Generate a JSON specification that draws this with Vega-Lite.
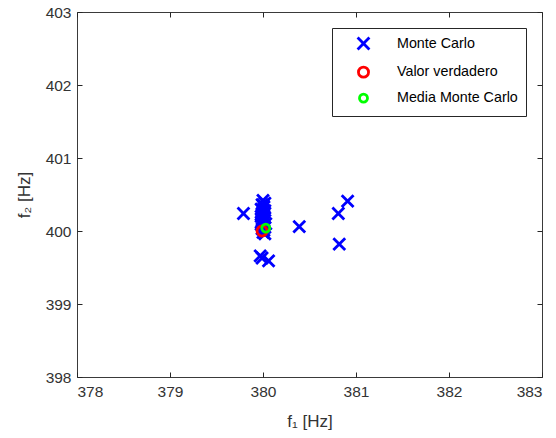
{
  "$schema": "https://vega.github.io/schema/vega-lite/v6.json",
  "autosize": "none",
  "width": 465,
  "height": 365,
  "padding": {"left": 77, "top": 12, "right": 14, "bottom": 61},
  "background": "white",
  "config": {
    "font": "Liberation Sans",
    "view": {"stroke": "#3a3a3a", "strokeWidth": 1},
    "axis": {
      "domain": false,
      "grid": false,
      "tickColor": "#262626",
      "tickSize": -5,
      "tickWidth": 1,
      "labelColor": "#333333",
      "labelFont": "Liberation Sans",
      "labelFontSize": 15.5,
      "titleColor": "#333333",
      "titleFont": "Liberation Sans",
      "titleFontSize": 17,
      "titleFontWeight": "normal"
    }
  },
  "data": {
    "values": [
      {"f1": 379.79, "f2": 400.24, "serie": "Monte Carlo"},
      {"f1": 380.39, "f2": 400.06, "serie": "Monte Carlo"},
      {"f1": 379.97, "f2": 399.66, "serie": "Monte Carlo"},
      {"f1": 379.99, "f2": 399.63, "serie": "Monte Carlo"},
      {"f1": 380.06, "f2": 399.59, "serie": "Monte Carlo"},
      {"f1": 380.81, "f2": 400.24, "serie": "Monte Carlo"},
      {"f1": 380.91, "f2": 400.41, "serie": "Monte Carlo"},
      {"f1": 380.82, "f2": 399.82, "serie": "Monte Carlo"},
      {"f1": 380.00, "f2": 400.42, "serie": "Monte Carlo"},
      {"f1": 379.99, "f2": 400.36, "serie": "Monte Carlo"},
      {"f1": 380.01, "f2": 400.33, "serie": "Monte Carlo"},
      {"f1": 379.98, "f2": 400.30, "serie": "Monte Carlo"},
      {"f1": 380.02, "f2": 400.28, "serie": "Monte Carlo"},
      {"f1": 380.00, "f2": 400.26, "serie": "Monte Carlo"},
      {"f1": 379.99, "f2": 400.24, "serie": "Monte Carlo"},
      {"f1": 380.01, "f2": 400.22, "serie": "Monte Carlo"},
      {"f1": 379.98, "f2": 400.20, "serie": "Monte Carlo"},
      {"f1": 380.02, "f2": 400.18, "serie": "Monte Carlo"},
      {"f1": 380.00, "f2": 400.16, "serie": "Monte Carlo"},
      {"f1": 379.99, "f2": 400.14, "serie": "Monte Carlo"},
      {"f1": 380.01, "f2": 400.12, "serie": "Monte Carlo"},
      {"f1": 380.03, "f2": 400.10, "serie": "Monte Carlo"},
      {"f1": 379.98, "f2": 400.09, "serie": "Monte Carlo"},
      {"f1": 380.00, "f2": 400.07, "serie": "Monte Carlo"},
      {"f1": 380.02, "f2": 400.05, "serie": "Monte Carlo"},
      {"f1": 379.99, "f2": 400.03, "serie": "Monte Carlo"},
      {"f1": 380.01, "f2": 400.01, "serie": "Monte Carlo"},
      {"f1": 380.00, "f2": 399.98, "serie": "Monte Carlo"},
      {"f1": 380.02, "f2": 399.96, "serie": "Monte Carlo"},
      {"f1": 379.98, "f2": 400.12, "serie": "Monte Carlo"},
      {"f1": 380.01, "f2": 400.19, "serie": "Monte Carlo"},
      {"f1": 379.99, "f2": 400.29, "serie": "Monte Carlo"},
      {"f1": 380.00, "f2": 400.35, "serie": "Monte Carlo"},
      {"f1": 380.02, "f2": 400.38, "serie": "Monte Carlo"},
      {"f1": 379.99, "f2": 400.00, "serie": "Valor verdadero"},
      {"f1": 380.03, "f2": 400.04, "serie": "Media Monte Carlo"}
    ]
  },
  "layer": [
    {
      "mark": {"type": "point", "filled": false, "strokeWidth": 2.8, "opacity": 1},
      "encoding": {
        "x": {
          "field": "f1", "type": "quantitative",
          "scale": {"domain": [378, 383], "nice": false, "zero": false},
          "axis": {"orient": "bottom", "values": [378, 379, 380, 381, 382, 383], "labelPadding": 12, "title": "f₁ [Hz]", "titlePadding": 14}
        },
        "y": {
          "field": "f2", "type": "quantitative",
          "scale": {"domain": [398, 403], "nice": false, "zero": false},
          "axis": {"orient": "left", "values": [398, 399, 400, 401, 402, 403], "labelPadding": 11, "title": "f₂ [Hz]", "titlePadding": 12}
        },
        "color": {
          "field": "serie", "type": "nominal",
          "scale": {"domain": ["Monte Carlo", "Valor verdadero", "Media Monte Carlo"], "range": ["#0000ff", "#ff0000", "#00ff00"]},
          "legend": {
            "title": null,
            "orient": "none",
            "legendX": 255,
            "legendY": 16,
            "strokeColor": "#262626",
            "fillColor": "white",
            "padding": 8,
            "symbolOffset": 16,
            "labelOffset": 26,
            "labelFontSize": 14.3,
            "labelColor": "#000000",
            "rowPadding": 5,
            "symbolStrokeWidth": 2.8,
            "cornerRadius": 0
          }
        },
        "shape": {
          "field": "serie", "type": "nominal",
          "scale": {"domain": ["Monte Carlo", "Valor verdadero", "Media Monte Carlo"], "range": ["M-1,-1L1,1M1,-1L-1,1", "circle", "circle"]}
        },
        "size": {
          "field": "serie", "type": "nominal",
          "scale": {"domain": ["Monte Carlo", "Valor verdadero", "Media Monte Carlo"], "range": [140, 64, 64]}
        }
      }
    },
    {
      "mark": {"type": "point", "opacity": 0},
      "encoding": {
        "x": {
          "field": "f1", "type": "quantitative",
          "scale": {"domain": [378, 383], "nice": false, "zero": false},
          "axis": {"orient": "top", "values": [378, 379, 380, 381, 382, 383], "labels": false, "title": null}
        },
        "y": {
          "field": "f2", "type": "quantitative",
          "scale": {"domain": [398, 403], "nice": false, "zero": false},
          "axis": {"orient": "right", "values": [398, 399, 400, 401, 402, 403], "labels": false, "title": null}
        }
      }
    }
  ],
  "resolve": {"axis": {"x": "independent", "y": "independent"}}
}
